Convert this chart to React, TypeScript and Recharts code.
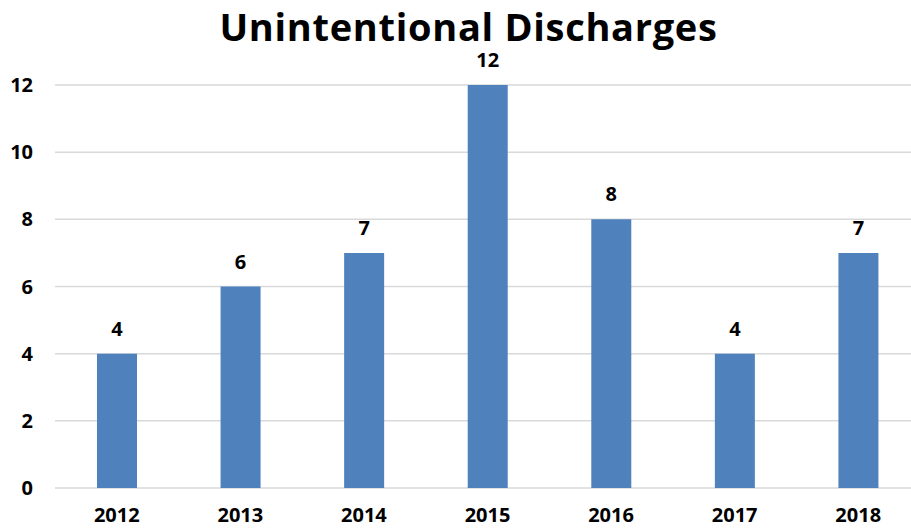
import { BarChart, Bar, XAxis, YAxis, CartesianGrid, LabelList } from "recharts";

const years = ["2012", "2013", "2014", "2015", "2016", "2017", "2018"];
const discharges = [4, 6, 7, 12, 8, 4, 7];
const yTicks = [0, 2, 4, 6, 8, 10, 12];

const data = years.map((year, i) => ({ year, discharges: discharges[i] }));

const font = "'Open Sans', sans-serif";

export default function App() {
    return (
        <div
            style={{
                position: "absolute",
                left: 0,
                top: 0,
                width: 911,
                height: 530,
                overflow: "hidden",
                background: "#fff",
                fontFamily: font,
            }}
        >
            <div
                style={{
                    position: "absolute",
                    left: 0,
                    width: 937,
                    top: 6,
                    textAlign: "center",
                    fontSize: 38,
                    fontWeight: 700,
                    letterSpacing: 0.7,
                    color: "#000",
                    lineHeight: "40px",
                }}
            >
                Unintentional Discharges
            </div>
            <BarChart
                width={921}
                height={530}
                data={data}
                margin={{ top: 85, right: 1, bottom: 0, left: 0 }}
            >
                <CartesianGrid vertical={false} stroke="#d9d9d9" strokeWidth={1.5} />
                <XAxis
                    dataKey="year"
                    height={42}
                    axisLine={false}
                    tickLine={false}
                    tickSize={0}
                    tickMargin={20}
                    tick={{ fill: "#000", fontSize: 20, fontWeight: 700, fontFamily: font }}
                />
                <YAxis
                    width={55}
                    domain={[0, 12]}
                    ticks={yTicks}
                    axisLine={false}
                    tickLine={false}
                    tickSize={0}
                    tickMargin={22}
                    tick={{ fill: "#000", fontSize: 20, fontWeight: 700, fontFamily: font }}
                />
                <Bar dataKey="discharges" fill="#4f81bd" barSize={40} isAnimationActive={false}>
                    <LabelList
                        dataKey="discharges"
                        position="top"
                        offset={18}
                        fill="#000"
                        fontSize={20}
                        fontWeight={700}
                        fontFamily={font}
                    />
                </Bar>
            </BarChart>
        </div>
    );
}
